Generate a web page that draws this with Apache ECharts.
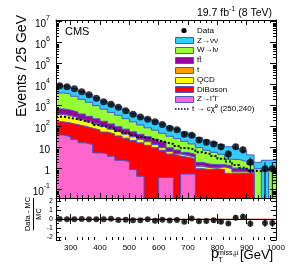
<!DOCTYPE html>
<html><head><meta charset="utf-8">
<script src="https://cdn.jsdelivr.net/npm/echarts@6/dist/echarts.min.js"></script>
<style>html,body{margin:0;padding:0;background:#fff}#c{width:291px;height:279px}</style>
</head><body><div id="c"></div>
<script>
// ---------- data ----------
const binEdges = [250,275,300,325,350,375,400,425,450,475,500,525,550,575,600,625,650,675,700,725,750,775,800,825,850,875,900,925,950,975,1000];
const xTickLabels = [300,400,500,600,700,800,900,1000];
const dataCounts = [8960,8030,6450,4640,3340,2280,1550,1180,849,578,394,290,228,173,125,83,72,44,39,23,18,15,11,5,11,8,2,0,1,1];
const dataErr = [95,90,80,68,58,48,39,34,29,24,20,17,15,13,11,9,8.5,6.6,6.2,4.8,4.2,3.9,3.4,2.2,3.3,2.8,1.4,0,1,1];
const zll      = [40,33,24,17,14,5.6,5.2,3.9,2.5,2.2,0.9,0.43,0,0,0.38,0.38,0,0.55,0.55,0,0,0,0,0,0,0,0,0,0,0];
const diboson  = [130,117,101,88,71,64,50,41,33.5,26,21,16.6,13,10,7.1,4.6,4,2.95,2.45,1.0,0.9,1.0,0.9,0.6,0.6,0.6,0.6,0,0,0];
const qcd      = [210,180,145,110,85,60,45,31,22,16,11,8,6,4,2.5,1.5,1,0.7,0.5,0.3,0.2,0.1,0.3,0.4,0.1,0.1,0.05,0,0,0];
const singleTop= [20,15,15,10,8,7,5,4,3,2,1.5,1,1,0.7,0.5,0.3,0.2,0.2,0.1,0.1,0.05,0.05,0.05,0.05,0.05,0.05,0.05,0,0,0];
const ttbar    = [300,275,215,175,132,103,75,55,39,30,22.5,17,13,10.3,8.5,3,2.5,1.5,1.2,0.6,0.5,0.4,0.3,0.3,0.3,0.2,0.2,0,0,0];
const wjets    = [3300,2980,2300,1600,1140,760,500,345,250,164,113,77,55,43,29,25.2,19.3,14.1,10.2,8,5.85,4.45,3.25,1.45,1.65,1.25,0.7,1.0,0,1.0];
const znunu    = [5000,4700,3800,2800,1950,1400,970,720,530,380,260,190,152,122,87,65,51,35,29,20,15.5,12,9.2,8.2,6.3,4.8,2.9,1.0,2.5,1.5];
const signal   = [300,260,225,185,150,120,98,80,63,50,40,32,27,22,18,15,12,9.5,8,6,5,4,3,2.2,1.5,1.1,0.8,0.75,0.9,0.9];
const ratio    = [0,-0.03,-0.03,0,-0.03,-0.03,-0.03,0.04,-0.1,-0.07,-0.15,-0.15,-0.03,-0.2,-0.07,-0.18,-0.1,-0.3,0.05,-0.25,-0.22,-0.15,-0.3,-0.5,0.15,0.25,-0.52,null,-0.45,-0.45];
const ratioErr = [0.01,0.01,0.01,0.015,0.02,0.02,0.025,0.03,0.035,0.04,0.05,0.06,0.065,0.07,0.09,0.1,0.11,0.13,0.16,0.18,0.2,0.22,0.25,0.2,0.3,0.35,0.37,0,0.45,0.45];
const legendNames = ['Data','Z\u2192\u03bd\u03bd','W\u2192l\u03bd','tt\u0304','t','QCD','DiBoson','Z\u2192l\u207al\u207b'];

// ---------- styling ----------
const FONT = '"Liberation Sans", Arial, Helvetica, sans-serif';
const layerNames  = ['Z\u2192l\u207al\u207b','DiBoson','QCD','t','tt','W\u2192l\u03bd','Z\u2192\u03bd\u03bd'];
const layers      = [zll, diboson, qcd, singleTop, ttbar, wjets, znunu];
const layerColors = ['#ff66cc','#ff0000','#ffff00','#ff9900','#990099','#99ff33','#33ccff'];
const edgeColor = '#4b55d0';
const FLOOR = 1e-4;
const NB = binEdges.length - 1;
const centers = binEdges.slice(0, NB).map((e, i) => (e + binEdges[i + 1]) / 2);

let run = new Array(NB).fill(0);
const cumLayers = layers.map(arr => { run = run.map((v, i) => v + arr[i]); return run.slice(); });
function stepData(vals) {
  const d = vals.map((v, i) => [binEdges[i], v > 0 ? v : FLOOR]);
  d.push([binEdges[NB], vals[NB - 1] > 0 ? vals[NB - 1] : FLOOR]);
  return d;
}

const series = [];
for (let k = layers.length - 1; k >= 0; k--) {
  series.push({
    type: 'line', name: layerNames[k], xAxisIndex: 0, yAxisIndex: 0, step: 'end',
    data: stepData(cumLayers[k]), showSymbol: false, clip: true, silent: true,
    lineStyle: { color: edgeColor, width: 1 },
    areaStyle: { color: layerColors[k], opacity: 1, origin: 'start' }, z: 2
  });
}
series.push({
  type: 'line', name: 'signal', xAxisIndex: 0, yAxisIndex: 0, step: 'end',
  data: stepData(signal), showSymbol: false, clip: true, silent: true,
  lineStyle: { color: '#000', width: 2, type: [2, 2] }, z: 3
});
series.push({
  type: 'custom', xAxisIndex: 0, yAxisIndex: 0, clip: true, z: 4, silent: true,
  data: centers.map((c, i) => [c, Math.max(dataCounts[i] - dataErr[i], FLOOR), dataCounts[i] + dataErr[i]]).filter((d, i) => dataCounts[i] > 0),
  renderItem(params, api) {
    const p1 = api.coord([api.value(0), api.value(1)]);
    const p2 = api.coord([api.value(0), api.value(2)]);
    return { type: 'line', shape: { x1: p1[0], y1: p1[1], x2: p2[0], y2: p2[1] }, style: { stroke: '#000', lineWidth: 1 } };
  }
});
series.push({
  type: 'scatter', name: 'Data', xAxisIndex: 0, yAxisIndex: 0, symbol: 'circle', symbolSize: 7,
  itemStyle: { color: '#000' }, z: 5, silent: true,
  data: centers.map((c, i) => [c, dataCounts[i]]).filter((d, i) => dataCounts[i] > 0)
});
series.push({
  type: 'line', xAxisIndex: 2, yAxisIndex: 2, data: [[250, 0], [1000, 0]], showSymbol: false, silent: true,
  lineStyle: { color: '#ff6f6f', width: 1 }, z: 2
});
series.push({
  type: 'custom', xAxisIndex: 2, yAxisIndex: 2, clip: true, z: 4, silent: true,
  data: centers.map((c, i) => [c, ratio[i] - ratioErr[i], ratio[i] + ratioErr[i]]).filter((d, i) => ratio[i] !== null),
  renderItem(params, api) {
    const p1 = api.coord([api.value(0), api.value(1)]);
    const p2 = api.coord([api.value(0), api.value(2)]);
    return { type: 'line', shape: { x1: p1[0], y1: p1[1], x2: p2[0], y2: p2[1] }, style: { stroke: '#000', lineWidth: 1 } };
  }
});
series.push({
  type: 'scatter', xAxisIndex: 2, yAxisIndex: 2, symbol: 'circle', symbolSize: 6, silent: true,
  itemStyle: { color: '#000' }, z: 5,
  data: centers.map((c, i) => [c, ratio[i]]).filter((d, i) => ratio[i] !== null)
});
// minor ticks (axis decoration)
const logMinor = [];
for (let e = -2; e <= 7; e++) for (let m = 2; m <= 9; m++) { const v = m * Math.pow(10, e); if (v > 0.04 && v < 1.2e7) logMinor.push([250, v]); }
const xMinor = [];
for (let x = 260; x < 1000; x += 20) if (x % 100 !== 0) xMinor.push(x);
const ratioMinor = [-1.5, -0.5, 0.5, 1.5];
function tickLine(x1, y1, x2, y2) { return { type: 'line', shape: { x1, y1, x2, y2 }, style: { stroke: '#000', lineWidth: 1 } }; }
series.push({
  type: 'custom', xAxisIndex: 0, yAxisIndex: 0, z: 10, silent: true, clip: false,
  data: logMinor,
  renderItem(params, api) {
    const cs = params.coordSys; const y = Math.round(api.coord([250, api.value(1)])[1]) + 0.5;
    return { type: 'group', children: [tickLine(cs.x, y, cs.x + 3, y), tickLine(cs.x + cs.width - 3, y, cs.x + cs.width, y)] };
  }
});
[0, 2].forEach(ax => {
  series.push({
    type: 'custom', xAxisIndex: ax, yAxisIndex: ax, z: 10, silent: true, clip: false,
    data: xMinor.map(x => [x, ax === 0 ? 1 : 0]),
    renderItem(params, api) {
      const cs = params.coordSys; const x = Math.round(api.coord([api.value(0), api.value(1)])[0]) + 0.5;
      return { type: 'group', children: [tickLine(x, cs.y + cs.height, x, cs.y + cs.height - 3), tickLine(x, cs.y, x, cs.y + 3)] };
    }
  });
});
series.push({
  type: 'custom', xAxisIndex: 2, yAxisIndex: 2, z: 10, silent: true, clip: false,
  data: ratioMinor.map(v => [250, v]),
  renderItem(params, api) {
    const cs = params.coordSys; const y = Math.round(api.coord([250, api.value(1)])[1]) + 0.5;
    return { type: 'group', children: [tickLine(cs.x, y, cs.x + 3, y), tickLine(cs.x + cs.width - 3, y, cs.x + cs.width, y)] };
  }
});

const axLine = { show: true, lineStyle: { color: '#000', width: 1 } };
function xAx(grid, pos, labels) {
  return {
    gridIndex: grid, type: 'value', min: 250, max: 1000, splitNumber: 8, position: pos, z: 6,
    axisLine: axLine, splitLine: { show: false },
    axisTick: { show: true, inside: true, length: 5, lineStyle: { color: '#000' } },
    axisLabel: labels ? { show: true, color: '#000', fontFamily: FONT, fontSize: 8, margin: 4,
      formatter: v => xTickLabels.indexOf(v) >= 0 ? String(v) : '' } : { show: false }
  };
}
function yLog(pos, labels) {
  return {
    gridIndex: 0, type: 'log', logBase: 10, min: 0.04, max: 1.2e7, position: pos, z: 6,
    axisLine: axLine, splitLine: { show: false },
    axisTick: { show: true, inside: true, length: 6, lineStyle: { color: '#000' } },
    axisLabel: labels ? {
      show: true, margin: 6, color: '#000',
      formatter: v => {
        const l = Math.log10(v), k = Math.round(l);
        if (Math.abs(l - k) > 1e-6) return '';
        if (k === 0) return '{b|1}';
        if (k === 1) return '{b|10}';
        return '{b|10}{s|' + k + '}';
      },
      rich: {
        b: { fontSize: 10, fontFamily: FONT, color: '#000', lineHeight: 15, verticalAlign: 'bottom' },
        s: { fontSize: 7, fontFamily: FONT, color: '#000', lineHeight: 15, verticalAlign: 'top' }
      }
    } : { show: false }
  };
}
function yRatio(pos, labels) {
  return {
    gridIndex: 1, type: 'value', min: -2.35, max: 2.35, position: pos, z: 6,
    axisLine: axLine, splitLine: { show: false },
    axisTick: { show: true, inside: true, length: 5, lineStyle: { color: '#000' } },
    axisLabel: labels ? { show: true, color: '#000', fontFamily: FONT, fontSize: 7, margin: 3,
      formatter: v => Number.isInteger(v) ? String(v) : '' } : { show: false }
  };
}

const legendY0 = 30.5, legendDY = 9.8, LFS = 8;
const gfx = [];
const T = (o) => ({ type: 'text', z: 100, style: Object.assign({ fontFamily: FONT, fill: '#000' }, o.style), x: o.x, y: o.y, rotation: o.rotation || 0 });
gfx.push({ type: 'circle', z: 100, shape: { cx: 184, cy: legendY0, r: 2.6 }, style: { fill: '#000' } });
gfx.push(T({ x: 197, y: legendY0, style: { text: legendNames[0], fontSize: LFS, verticalAlign: 'middle' } }));
const legendColors = ['#33ccff','#99ff33','#990099','#ff9900','#ffff00','#ff0000','#ff66cc'];
for (let i = 1; i < legendNames.length; i++) {
  const y = legendY0 + legendDY * i;
  gfx.push({ type: 'rect', z: 100, shape: { x: 175.5, y: Math.round(y - 3) + 0.5, width: 18, height: 6 }, style: { fill: legendColors[i - 1], stroke: edgeColor, lineWidth: 1 } });
  gfx.push(T({ x: 197, y: y, style: { text: legendNames[i], fontSize: LFS, verticalAlign: 'middle' } }));
}
const ySig = legendY0 + legendDY * 8;
gfx.push({ type: 'line', z: 100, shape: { x1: 175, y1: ySig, x2: 190, y2: ySig }, style: { stroke: '#000', lineWidth: 1.5, lineDash: [1.5, 1.5] } });
gfx.push({ type: 'text', z: 100, x: 192, y: ySig, style: {
  text: 't \u2192 c{c|\u03c7\u0303}{s|0} (250,240)', fontFamily: FONT, fontSize: LFS, fill: '#000', verticalAlign: 'middle',
  rich: { c: { fontFamily: FONT, fontSize: LFS }, s: { fontFamily: FONT, fontSize: 5.5, verticalAlign: 'top', lineHeight: 10 } }
} });
gfx.push(T({ x: 65, y: 32, style: { text: 'CMS', fontSize: 11, verticalAlign: 'middle' } }));
gfx.push({ type: 'text', z: 100, x: 272, y: 13, style: {
  text: '19.7 fb{s|-1} (8 TeV)', fontFamily: FONT, fontSize: 10.5, fill: '#000', align: 'right', verticalAlign: 'middle',
  rich: { s: { fontFamily: FONT, fontSize: 7, verticalAlign: 'top', lineHeight: 14 } }
} });
gfx.push(T({ x: 22.5, y: 66, rotation: Math.PI / 2, style: { text: 'Events / 25 GeV', fontSize: 14, align: 'center', verticalAlign: 'middle' } }));
gfx.push(T({ x: 28, y: 214, rotation: Math.PI / 2, style: { text: 'Data - MC', fontSize: 7.5, align: 'center', verticalAlign: 'middle' } }));
gfx.push({ type: 'line', z: 100, shape: { x1: 33.5, y1: 198, x2: 33.5, y2: 230 }, style: { stroke: '#000', lineWidth: 1 } });
gfx.push(T({ x: 38.5, y: 214, rotation: Math.PI / 2, style: { text: 'MC', fontSize: 7.5, align: 'center', verticalAlign: 'middle' } }));
gfx.push(T({ x: 211, y: 254.5, style: { text: 'p', fontSize: 14, verticalAlign: 'middle' } }));
gfx.push(T({ x: 218.5, y: 260.5, style: { text: 'T', fontSize: 7, verticalAlign: 'middle' } }));
gfx.push(T({ x: 218, y: 253, style: { text: 'miss,\u03bc', fontSize: 7, verticalAlign: 'middle' } }));
gfx.push(T({ x: 240, y: 255, style: { text: '[GeV]', fontSize: 13, verticalAlign: 'middle' } }));

const option = {
  animation: false,
  backgroundColor: '#fff',
  grid: [
    { left: 56, right: 15, top: 20, height: 178, containLabel: false },
    { left: 56, right: 15, top: 198, height: 42, containLabel: false }
  ],
  xAxis: [xAx(0, 'bottom', false), xAx(0, 'top', false), xAx(1, 'bottom', true), xAx(1, 'top', false)],
  yAxis: [yLog('left', true), yLog('right', false), yRatio('left', true), yRatio('right', false)],
  series: series,
  graphic: { elements: gfx }
};
const chart = echarts.init(document.getElementById('c'), null, { renderer: 'canvas' });
chart.setOption(option);
</script>
</body></html>
